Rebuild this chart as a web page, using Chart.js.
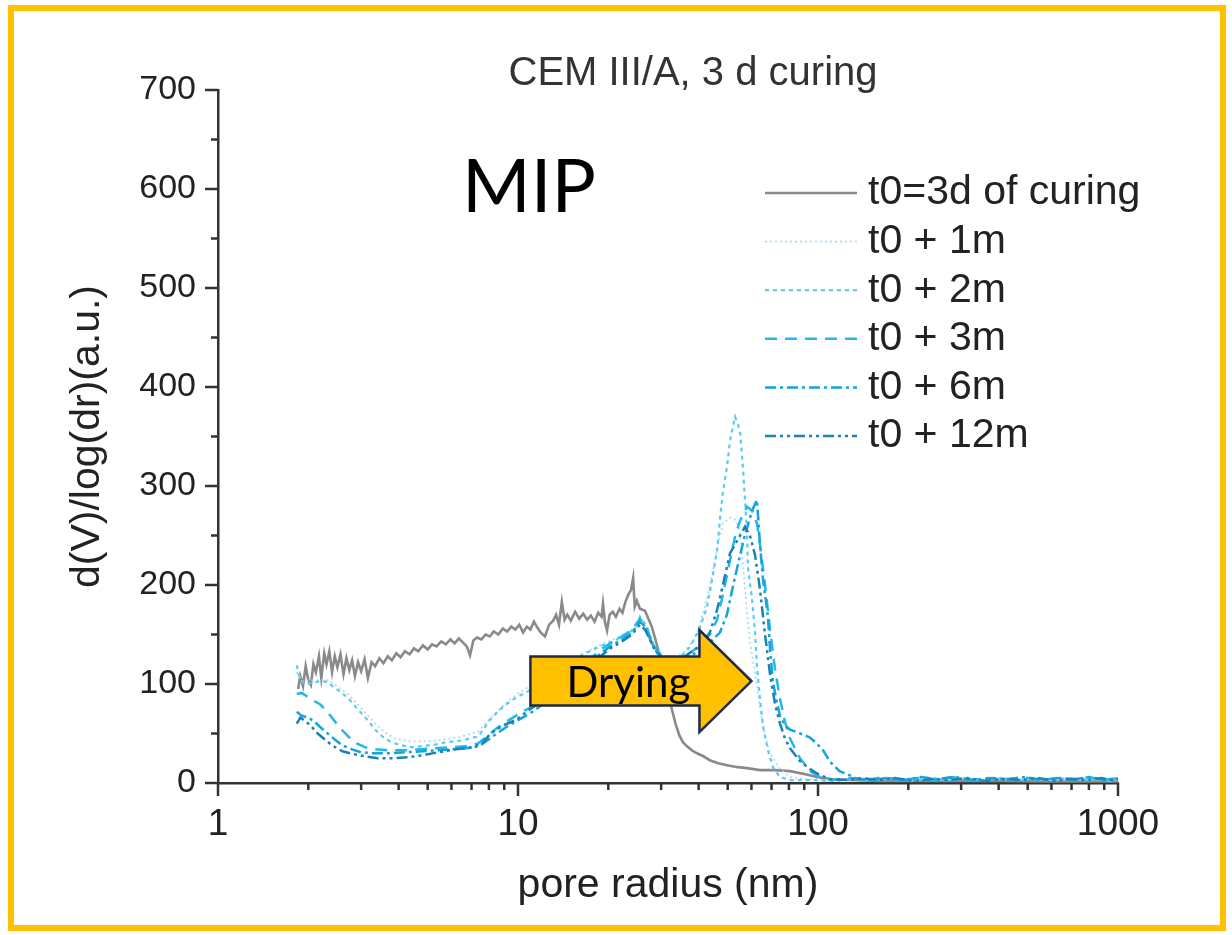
<!DOCTYPE html>
<html>
<head>
<meta charset="utf-8">
<script src="https://cdn.jsdelivr.net/npm/chart.js@4.4.1/dist/chart.umd.min.js"></script>
<style>
html, body { margin: 0; padding: 0; background: #fff; }
canvas { display: block; }
</style>
</head>
<body>
<canvas id="mipChart" width="1232" height="935"></canvas>
<script>
// pore radius (nm), d(V)/log(dr)
var seriesNames = ["t0=3d of curing", "t0 + 1m", "t0 + 2m", "t0 + 3m", "t0 + 6m", "t0 + 12m"];
var radiusTicks = [1, 10, 100, 1000];
var valueTicks = [0, 100, 200, 300, 400, 500, 600, 700];

var t0Data = [[1.85,95],[1.88,108],[1.92,98],[1.96,118],[2.0,104],[2.04,99],[2.08,120],[2.12,112],[2.17,128],[2.21,106],[2.26,131],[2.3,120],[2.35,133],[2.4,112],[2.45,128],[2.5,117],[2.56,130],[2.62,110],[2.68,126],[2.74,114],[2.8,124],[2.86,108],[2.93,122],[3.0,113],[3.08,125],[3.16,106],[3.25,122],[3.34,118],[3.45,126],[3.56,121],[3.68,128],[3.8,124],[3.93,131],[4.06,127],[4.2,133],[4.35,130],[4.5,136],[4.65,133],[4.82,139],[5.0,135],[5.17,140],[5.35,138],[5.55,143],[5.75,140],[5.95,145],[6.15,141],[6.35,146],[6.55,142],[6.75,138],[6.92,129],[7.1,144],[7.3,147],[7.55,145],[7.8,150],[8.05,148],[8.3,153],[8.6,150],[8.9,156],[9.2,153],[9.5,158],[9.8,155],[10.1,160],[10.4,152],[10.7,158],[11.0,155],[11.3,163],[11.6,157],[11.9,152],[12.3,148],[12.7,160],[13.1,164],[13.4,170],[13.7,160],[14.0,183],[14.3,165],[14.6,170],[15.0,164],[15.5,173],[16.0,166],[16.5,171],[17.0,165],[17.5,169],[18.0,163],[18.5,172],[19.0,168],[19.2,181],[19.5,162],[19.8,154],[20.2,170],[20.7,173],[21.2,168],[21.8,176],[22.3,172],[22.8,183],[23.3,190],[23.8,195],[24.2,207],[24.5,178],[24.9,184],[25.5,176],[26.5,174],[27.3,165],[28.0,157],[28.7,145],[29.3,135],[30.0,122],[30.8,108],[31.6,92],[32.6,74],[33.5,60],[34.5,48],[35.5,41],[36.6,37],[38,33],[39.5,30],[41.5,27],[43.6,23],[46.5,20],[49.7,18],[54,16],[58,15],[64,13],[72,13],[80.7,12],[90,9],[99,6],[110,4],[128,3],[160,2],[250,2],[400,2],[600,1.5],[1000,1.5]];

var t1Data = [[1.83,112],[1.9,103],[2.06,104],[2.33,104],[2.51,97],[2.71,90],[2.93,79],[3.14,69],[3.34,60],[3.6,51],[3.89,45],[4.44,42],[5.01,42],[5.71,44],[6.5,47],[7.36,52],[8.07,65],[8.91,78],[9.92,90],[10.72,96],[11.86,104],[13.8,117],[16.07,129],[18.71,139],[20.74,145],[23.07,152],[24.93,158],[25.51,165],[26.92,156],[27.97,145],[29.06,134],[30.9,128],[33.4,127],[36,133],[38.5,145],[40.2,158],[42,178],[44,205],[46,235],[48.2,262],[50.9,268],[53,266],[54.5,258],[55.5,240],[57,200],[58.5,160],[59.5,140],[61.7,110],[64.1,75],[66.6,48],[69.2,30],[74.7,14],[80.7,6],[90,4],[105,3],[130,4],[150,3],[175,5],[200,3],[230,4],[260,3],[300,5],[350,3],[400,4],[460,3],[520,5],[600,3],[680,4],[760,3],[850,5],[930,3],[1000,4]];

var t2Data = [[1.83,119],[1.88,104],[1.95,100],[2.06,101],[2.2,103],[2.33,102],[2.42,97],[2.51,94],[2.61,90],[2.71,86],[2.82,80],[2.93,74],[3.04,69],[3.14,64],[3.24,59],[3.34,54],[3.47,49],[3.6,45],[3.75,42],[3.89,40],[4.1,38],[4.44,36],[4.7,37],[5.01,38],[5.35,39],[5.71,41],[6.1,42],[6.5,43],[6.9,45],[7.36,47],[7.7,55],[8.07,64],[8.5,71],[8.91,77],[9.4,82],[9.92,87],[10.72,92],[11.3,97],[11.86,102],[12.8,108],[13.8,115],[14.9,121],[16.07,128],[17.3,133],[18.71,138],[20.74,143],[22,147],[23.07,150],[24.2,155],[24.93,160],[25.51,168],[26.2,163],[26.92,158],[27.97,143],[29.06,131],[30.2,126],[31.5,124],[33.4,124],[35,128],[37.3,137],[40.2,155],[42.66,178],[44.35,205],[46.08,235],[47.1,266],[48.15,293],[49.74,319],[50.9,346],[52.1,360],[52.9,370],[54.1,362],[55,354],[56.2,319],[57.1,286],[58,253],[58.4,218],[60.3,185],[61.7,152],[62.6,117],[64.1,84],[65.6,57],[68.1,33],[70.8,16],[74.7,6],[80.7,3],[95,3],[115,2],[135,5],[155,3],[180,4],[205,2],[235,5],[265,3],[310,4],[355,2],[410,5],[470,3],[530,4],[610,3],[690,5],[770,3],[860,4],[940,2],[1000,5]];

var t3Data = [[1.83,90],[1.9,91],[2.06,84],[2.2,79],[2.34,70],[2.47,61],[2.6,53],[2.74,46],[2.9,40],[3.1,36],[3.36,34],[3.7,33],[4.2,33],[4.7,34],[5.3,35],[5.9,36],[6.7,37],[7.36,40],[7.8,46],[8.4,54],[8.9,60],[9.5,65],[10.1,70],[10.8,75],[11.5,80],[12.5,88],[13.8,98],[15.5,112],[17.3,124],[18.7,134],[20.3,141],[22.2,148],[24.0,155],[25.5,166],[26.5,160],[27.5,148],[28.5,138],[30,129],[32,125],[34,126],[36,128],[40.2,138],[43.6,150],[46.1,165],[48.2,190],[50.9,225],[53,250],[55.0,265],[58.0,279],[60.3,275],[62.6,262],[64.1,240],[66.6,200],[69.2,155],[71.9,115],[74.7,85],[77.6,62],[80.7,45],[87.1,25],[94,12],[101.5,6],[110,3],[130,5],[145,3],[165,6],[185,3],[215,5],[245,3],[280,6],[320,3],[370,5],[420,3],[480,6],[550,3],[630,5],[710,3],[800,6],[890,3],[1000,5]];

var t6Data = [[1.83,72],[1.9,68],[2.0,66],[2.1,62],[2.2,56],[2.32,50],[2.45,44],[2.6,38],[2.8,34],[3.0,31],[3.3,30],[3.7,30],[4.2,31],[4.8,32],[5.4,33],[6.0,34],[6.7,35],[7.4,37],[7.9,43],[8.5,50],[9.1,56],[9.8,62],[10.5,67],[11.3,73],[12.3,81],[13.8,93],[15.5,107],[17.3,120],[18.7,130],[20.3,138],[22.2,145],[24,152],[25.5,163],[26.5,158],[27.5,146],[28.5,136],[30,127],[32,122],[34,122],[36,126],[40.2,133],[43.6,142],[47.1,152],[49.7,170],[52,198],[54.5,225],[57,250],[60.3,275],[62.6,286],[64.1,240],[65.6,205],[67,185],[68.1,168],[69.2,135],[70.8,102],[72.5,85],[74.7,68],[77.6,58],[80.7,54],[87.1,50],[94,46],[99,40],[104,33],[110,21],[118,12],[125,9],[135,4],[150,3],[170,5],[195,3],[220,6],[250,4],[285,6],[330,3],[380,5],[430,4],[490,6],[560,3],[640,5],[720,4],[810,6],[900,3],[1000,4]];

var t12Data = [[1.83,60],[1.88,66],[1.95,63],[2.05,57],[2.15,50],[2.25,45],[2.4,38],[2.6,32],[2.85,29],[3.1,27],[3.4,25],[3.8,25],[4.3,26],[4.8,28],[5.4,31],[6.2,34],[7.0,36],[7.6,40],[8.1,50],[8.9,58],[9.9,64],[10.9,74],[12.0,82],[13.5,92],[15.2,104],[17.0,116],[18.7,127],[20.3,136],[22.2,143],[24,150],[25.5,160],[26.5,155],[27.5,145],[28.5,135],[30,127],[32,124],[34,125],[36,128],[40.2,138],[43.6,152],[46.1,175],[48.2,200],[50.9,232],[55.0,250],[57.1,259],[59.3,250],[61.7,230],[64.1,195],[66.6,150],[69.2,110],[71.9,80],[74.7,60],[77.6,45],[80.7,35],[87.1,22],[94,14],[101.5,8],[110,4],[125,3],[140,5],[160,3],[180,5],[210,2],[240,4],[275,3],[315,5],[360,2],[415,4],[475,3],[540,5],[620,2],[700,4],[790,3],[880,5],[960,3],[1000,4]];

var seriesData = [t0Data, t1Data, t2Data, t3Data, t6Data, t12Data];

// drying arrow spans these radii at this level
var arrowFrom = 11, arrowTo = 60, arrowAt = 103;

// styles
var lineColors = ["#8a8a8a", "#a9def2", "#5ccbf0", "#22b8ec", "#12a5db", "#1b82b6"];
var lineDashes = [[], [2, 3], [4, 4], [12, 8], [11, 4, 3, 4], [11, 4, 3, 4, 3, 4]];
var lineWidths = [2.6, 1.8, 2.2, 2.5, 2.5, 2.5];
var axisColor = "#333";
var fontFam = "'Liberation Sans', Arial, sans-serif";

var datasets = seriesData.map(function (d, i) {
    return {
        label: seriesNames[i],
        data: d.map(function (p) { return { x: p[0], y: p[1] }; }),
        borderColor: lineColors[i],
        borderDash: lineDashes[i],
        borderWidth: lineWidths[i],
        pointRadius: 0,
        tension: 0,
        fill: false,
        order: 10 - i
    };
});

var overlay = {
    id: "overlay",
    beforeDraw: function (chart) {
        var ctx = chart.ctx;
        ctx.save();
        ctx.fillStyle = "#fff";
        ctx.fillRect(0, 0, chart.width, chart.height);
        ctx.restore();
    },
    afterDraw: function (chart) {
        var ctx = chart.ctx, a = chart.chartArea, x = chart.scales.x, y = chart.scales.y;
        ctx.save();
        // tick marks
        ctx.strokeStyle = axisColor;
        ctx.lineWidth = 2.5;
        ctx.beginPath();
        for (var v = 0; v <= 700; v += 50) {
            var py = y.getPixelForValue(v), len = v % 100 === 0 ? 13 : 7;
            ctx.moveTo(a.left, py); ctx.lineTo(a.left - len, py);
        }
        for (var d = 1; d <= 100; d *= 10) {
            for (var m = 1; m <= 9; m++) {
                var px = x.getPixelForValue(m * d), l2 = m === 1 ? 13 : 7;
                ctx.moveTo(px, a.bottom); ctx.lineTo(px, a.bottom + l2);
            }
        }
        var pe = x.getPixelForValue(1000);
        ctx.moveTo(pe, a.bottom); ctx.lineTo(pe, a.bottom + 13);
        ctx.stroke();

        // title
        ctx.fillStyle = "#333";
        ctx.font = "40px " + fontFam;
        ctx.textAlign = "center";
        ctx.textBaseline = "middle";
        ctx.fillText("CEM III/A, 3 d curing", 693, 74);

        // MIP label
        ctx.fillStyle = "#000";
        ctx.font = "74px Lato, 'Open Sans', sans-serif";
        ctx.textAlign = "left";
        ctx.fillText("MIP", 462, 188);

        // legend
        var lx0 = 765, lx1 = 857, ly0 = 193, lstep = 48.6;
        chart.data.datasets.forEach(function (ds, i) {
            var ly = ly0 + i * lstep;
            ctx.strokeStyle = ds.borderColor;
            ctx.lineWidth = ds.borderWidth;
            ctx.setLineDash(ds.borderDash);
            ctx.beginPath();
            ctx.moveTo(lx0, ly); ctx.lineTo(lx1, ly);
            ctx.stroke();
            ctx.setLineDash([]);
            ctx.fillStyle = "#222";
            ctx.font = "41px " + fontFam;
            ctx.textAlign = "left";
            ctx.fillText(ds.label, 868, ly);
        });

        // drying arrow
        var ax0 = x.getPixelForValue(arrowFrom), ax2 = x.getPixelForValue(arrowTo), ay = y.getPixelForValue(arrowAt);
        var ax1 = ax2 - 52;
        ctx.beginPath();
        ctx.moveTo(ax0, ay - 24.5);
        ctx.lineTo(ax1, ay - 24.5);
        ctx.lineTo(ax1, ay - 51);
        ctx.lineTo(ax2, ay);
        ctx.lineTo(ax1, ay + 51);
        ctx.lineTo(ax1, ay + 24.5);
        ctx.lineTo(ax0, ay + 24.5);
        ctx.closePath();
        ctx.fillStyle = "#ffc000";
        ctx.fill();
        ctx.strokeStyle = "#1f2a44";
        ctx.lineWidth = 2.5;
        ctx.stroke();
        ctx.fillStyle = "#000";
        ctx.font = "42px Lato, 'Open Sans', sans-serif";
        ctx.textAlign = "center";
        ctx.fillText("Drying", ax0 + 98, ay + 2);

        // frame
        ctx.strokeStyle = "#ffc000";
        ctx.lineWidth = 6;
        ctx.strokeRect(11, 8, 1212, 920);
        ctx.restore();
    }
};

var ctx = document.getElementById("mipChart");
var myChart = new Chart(ctx, {
    type: "line",
    data: { datasets: datasets },
    options: {
        responsive: false,
        animation: false,
        events: [],
        layout: { padding: { left: 0, right: 114, top: 90, bottom: 0 } },
        plugins: { legend: { display: false }, title: { display: false }, tooltip: { enabled: false } },
        scales: {
            x: {
                type: "logarithmic",
                min: 1,
                max: 1000,
                afterFit: function (s) { s.height = 152; },
                afterBuildTicks: function (s) { s.ticks = radiusTicks.map(function (v) { return { value: v }; }); },
                grid: { display: false, drawTicks: false },
                border: { display: true, color: axisColor, width: 2.5 },
                ticks: {
                    autoSkip: false,
                    maxRotation: 0,
                    padding: 20,
                    color: "#222",
                    font: { family: fontFam, size: 37 },
                    callback: function (v) { return String(v); }
                },
                title: { display: true, text: "pore radius (nm)", color: "#222", font: { family: fontFam, size: 41 }, padding: { bottom: 25 } }
            },
            y: {
                min: 0,
                max: 700,
                afterFit: function (s) { s.width = 218; },
                afterBuildTicks: function (s) { s.ticks = valueTicks.map(function (v) { return { value: v }; }); },
                grid: { display: false, drawTicks: false },
                border: { display: true, color: axisColor, width: 2.5 },
                ticks: {
                    padding: 22,
                    color: "#222",
                    font: { family: fontFam, size: 34 }
                },
                title: { display: true, text: "d(V)/log(dr)(a.u.)", color: "#222", font: { family: fontFam, size: 41 }, padding: { top: 63 } }
            }
        }
    },
    plugins: [overlay]
});
</script>
</body>
</html>
